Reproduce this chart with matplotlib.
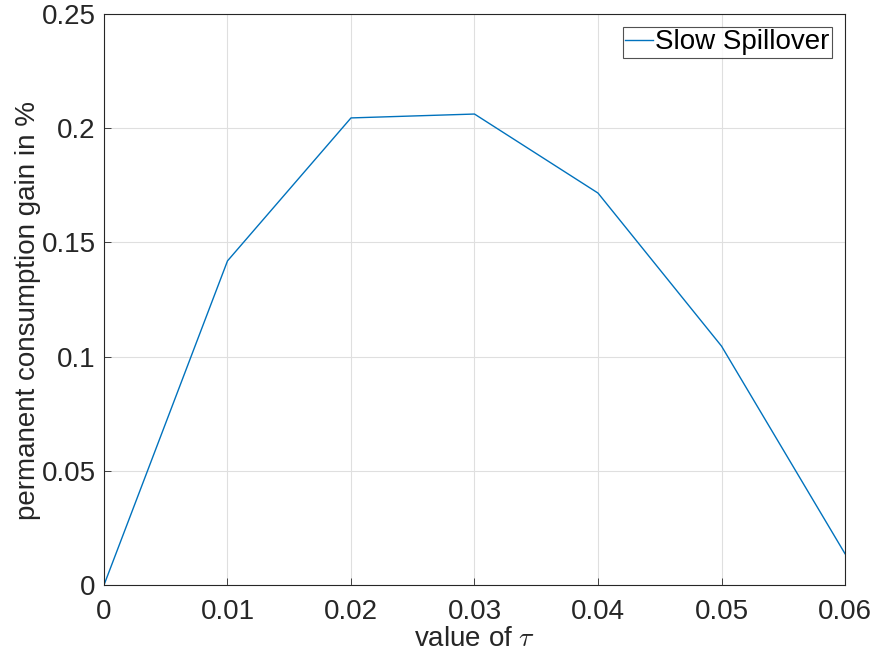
import matplotlib
matplotlib.use("Agg")
import matplotlib.pyplot as plt

tau = [0, 0.01, 0.02, 0.03, 0.04, 0.05, 0.06]
gain = [0.0, 0.1419, 0.2045, 0.2062, 0.1716, 0.1046, 0.0137]
xticks = [0, 0.01, 0.02, 0.03, 0.04, 0.05, 0.06]
xticklabels = ["0", "0.01", "0.02", "0.03", "0.04", "0.05", "0.06"]
yticks = [0, 0.05, 0.1, 0.15, 0.2, 0.25]
yticklabels = ["0", "0.05", "0.1", "0.15", "0.2", "0.25"]

plt.rcParams['font.family'] = ['Liberation Sans', 'DejaVu Sans']
plt.rcParams['mathtext.fontset'] = 'cm'
fig = plt.figure(figsize=(8.78, 6.58), dpi=100)
ax = fig.add_axes([104/878, 73/658, (845-104)/878, (585-14)/658])
ax.plot(tau, gain, color='#0072BD', lw=1.0, label='Slow Spillover')
ax.set_xlim(0, 0.06)
ax.set_ylim(0, 0.25)
ax.set_xticks(xticks)
ax.set_xticklabels(xticklabels)
ax.set_yticks(yticks)
ax.set_yticklabels(yticklabels)
ax.grid(True, color='#dfdfdf', lw=0.8)
ax.set_axisbelow(True)
ax.tick_params(labelsize=20, colors='#262626', direction='in', length=5, width=0.6)
ax.tick_params(axis='x', pad=10)
ax.tick_params(axis='y', pad=6)
for s in ax.spines.values():
    s.set_color('#262626')
    s.set_linewidth(0.8)
ax.set_xlabel(r'value of $\tau$', fontsize=20, color='#262626', labelpad=1)
ax.set_ylabel('permanent consumption gain in %', fontsize=20, color='#262626', labelpad=8)
ax.yaxis.set_label_coords(-0.085, 0.48)
leg = ax.legend(loc='upper right', fontsize=20, frameon=True, fancybox=False,
                edgecolor='#262626', handlelength=1.0, handletextpad=0.1,
                borderpad=0.08, borderaxespad=0.47)
leg.get_frame().set_linewidth(0.8)
fig.savefig('out.png', dpi=100, facecolor='white')
